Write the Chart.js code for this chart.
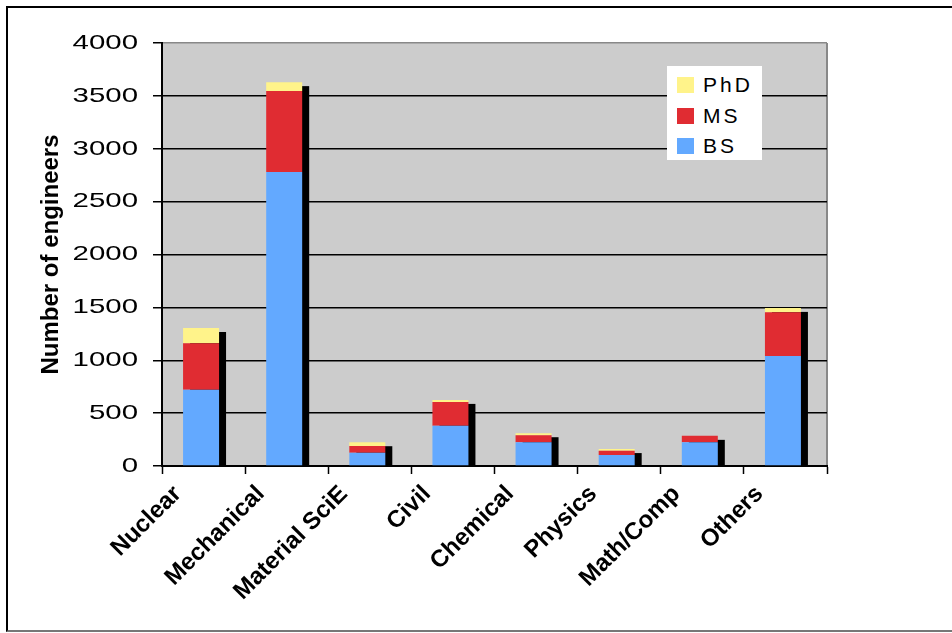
<!DOCTYPE html>
<html>
<head>
<meta charset="utf-8">
<title>Number of engineers by discipline</title>
<script src="https://cdn.jsdelivr.net/npm/chart.js@4/dist/chart.umd.min.js"></script>
<style>
  html, body { margin: 0; padding: 0; background: #fff; overflow: hidden; }
  #wrap { position: relative; width: 952px; height: 633px; }
  #frame {
    position: absolute; left: 6px; top: 6px; width: 980px; height: 626px;
    box-sizing: border-box;
    border-top: 2px solid #000; border-left: 2px solid #000; border-bottom: 2px solid #777;
  }
  #chart { position: absolute; left: 0; top: 0; }
  #legend {
    position: absolute; left: 667px; top: 66px; width: 95px; height: 94px;
    background: #fff; box-sizing: border-box; padding-top: 4px;
  }
  .item { display: flex; align-items: center; height: 30.5px; }
  .sw { width: 17px; height: 16px; margin-left: 10px; margin-right: 9px; }
  .lbl { font-family: "Liberation Sans", Arial, sans-serif; font-size: 21px; letter-spacing: 3px; color: #000; }
</style>
</head>
<body>
<div id="wrap">
  <div id="frame"></div>
  <canvas id="chart" width="952" height="633"></canvas>
  <div id="legend"></div>
</div>
<script>
// Disciplines along the x axis
const categories = ['Nuclear', 'Mechanical', 'Material SciE', 'Civil', 'Chemical', 'Physics', 'Math/Comp', 'Others'];

// Engineers per discipline by degree level
const bsValues  = [720, 2780, 125, 380, 225, 105, 225, 1040];
const msValues  = [440,  765,  65, 225,  65,  40,  60,  415];
const phdValues = [145,   85,  35,  20,  20,  15,   0,   40];

// Value axis ticks
const yTicks = [0, 500, 1000, 1500, 2000, 2500, 3000, 3500, 4000];

const COLORS = { bs: '#63A9FF', ms: '#E02C32', phd: '#FFF38A' };

// Drop shadow offset and slight left shift of each bar group
const SH_DX = 7, SH_DY = 4, BAR_SHIFT = -2.5;
const Y_LABEL_STRETCH = 1.4;

const plotBackground = {
  id: 'plotBackground',
  beforeDraw(chart) {
    const { ctx, chartArea: a } = chart;
    ctx.save();
    ctx.fillStyle = '#CCCCCC';
    ctx.fillRect(a.left, a.top, a.right - a.left, a.bottom - a.top);
    ctx.strokeStyle = '#888';
    ctx.lineWidth = 2;
    ctx.beginPath();
    ctx.moveTo(a.right, a.top);
    ctx.lineTo(a.right, a.bottom);
    ctx.stroke();
    ctx.restore();
  }
};

const barShadow = {
  id: 'barShadow',
  beforeDatasetsDraw(chart) {
    const ctx = chart.ctx;
    ctx.save();
    ctx.translate(BAR_SHIFT, 0);
    const base = chart.scales.y.getPixelForValue(0);
    const metas = chart.getSortedVisibleDatasetMetas();
    categories.forEach((_, i) => {
      let top = Infinity, ref = null;
      metas.forEach(m => {
        const el = m.data[i];
        if (!el) return;
        ref = el;
        const v = chart.data.datasets[m.index].data[i];
        if (v > 0) top = Math.min(top, el.y);
      });
      if (!ref || !isFinite(top)) return;
      const w = ref.width;
      ctx.fillStyle = '#000';
      ctx.fillRect(ref.x - w / 2 + SH_DX, top + SH_DY, w, base - top - SH_DY);
    });
  },
  afterDatasetsDraw(chart) {
    const ctx = chart.ctx;
    ctx.restore();
    // y tick labels are drawn next (ticks.z = 1): widen them horizontally
    const y = chart.scales.y;
    const ax = y.right - y.options.grid.tickLength - y.options.ticks.padding;
    ctx.save();
    ctx.translate(ax, 0);
    ctx.scale(Y_LABEL_STRETCH, 1);
    ctx.translate(-ax, 0);
  },
  afterDraw(chart) {
    chart.ctx.restore();
  }
};

const chart = new Chart(document.getElementById('chart'), {
  type: 'bar',
  data: {
    labels: categories,
    datasets: [
      { label: 'BS',  data: bsValues,  backgroundColor: COLORS.bs },
      { label: 'MS',  data: msValues,  backgroundColor: COLORS.ms },
      { label: 'PhD', data: phdValues, backgroundColor: COLORS.phd }
    ]
  },
  options: {
    responsive: false,
    animation: false,
    events: [],
    datasets: { bar: { categoryPercentage: 1, barPercentage: 0.433, borderWidth: 0 } },
    layout: { padding: { left: 28, top: 43, right: 125, bottom: 0 } },
    plugins: { legend: { display: false }, tooltip: { enabled: false } },
    scales: {
      x: {
        stacked: true,
        grid: { offset: true, drawOnChartArea: false, drawTicks: true, tickLength: 8, tickColor: '#000', tickWidth: 1.5 },
        border: { color: '#000', width: 2 },
        ticks: {
          autoSkip: false, minRotation: 45, maxRotation: 45,
          font: { family: 'Liberation Sans', weight: 'bold', size: 24 },
          color: '#000', padding: 6, labelOffset: -26
        },
        afterFit(s) { s.height = 633 - 466; }
      },
      y: {
        stacked: true,
        min: 0, max: 4000,
        afterBuildTicks(s) { s.ticks = yTicks.map(v => ({ value: v })); },
        grid: {
          color: c => (c.tick && c.tick.value === 4000 ? '#888' : '#000'),
          lineWidth: 1.5, tickLength: 9, tickColor: '#000', tickWidth: 1.5
        },
        border: { color: '#000', width: 2 },
        ticks: {
          z: 1, padding: 15, color: '#000',
          font: { family: 'Liberation Sans', size: 21 },
          callback: v => String(v)
        },
        title: {
          display: true, text: 'Number of engineers', color: '#000',
          font: { family: 'Liberation Sans', weight: 'bold', size: 24 },
          padding: { top: 9, bottom: 0 }
        },
        afterFit(s) { s.width = 162 - 28; }
      }
    }
  },
  plugins: [plotBackground, barShadow]
});

// Legend: top series first
const legend = document.getElementById('legend');
chart.data.datasets.slice().reverse().forEach(ds => {
  const row = document.createElement('div');
  row.className = 'item';
  const sw = document.createElement('span');
  sw.className = 'sw';
  sw.style.background = ds.backgroundColor;
  const lbl = document.createElement('span');
  lbl.className = 'lbl';
  lbl.textContent = ds.label;
  row.appendChild(sw);
  row.appendChild(lbl);
  legend.appendChild(row);
});
</script>
</body>
</html>
